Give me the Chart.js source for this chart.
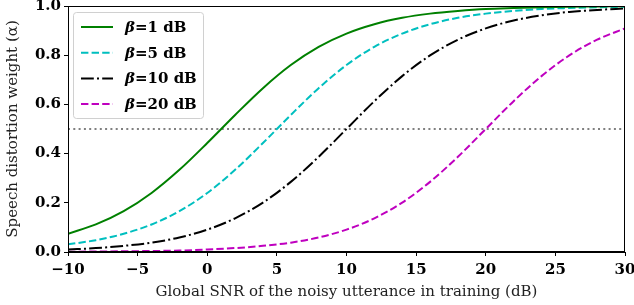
<!DOCTYPE html>
<html>
<head>
<meta charset="utf-8">
<script src="https://cdn.jsdelivr.net/npm/chart.js@4.4.0/dist/chart.umd.min.js"></script>
<style>
  html, body { margin: 0; padding: 0; background: #fff; }
  #wrap { width: 634px; height: 305px; }
</style>
</head>
<body>
<div id="wrap"><canvas id="alphaChart" width="634" height="305"></canvas></div>
<script>
// global SNR (dB), read every 2 dB
const snr = [-10, -8, -6, -4, -2, 0, 2, 4, 6, 8, 10, 12, 14, 16, 18, 20, 22, 24, 26, 28, 30];

const beta1 = [0.074, 0.112, 0.166, 0.240, 0.334, 0.443, 0.557, 0.666, 0.760, 0.834, 0.888,
    0.926, 0.952, 0.969, 0.980, 0.988, 0.992, 0.995, 0.997, 0.998, 0.999];
const beta5 = [0.031, 0.048, 0.074, 0.112, 0.166, 0.240, 0.334, 0.443, 0.557, 0.666, 0.760,
    0.834, 0.888, 0.926, 0.952, 0.969, 0.980, 0.988, 0.992, 0.995, 0.997];
const beta10 = [0.010, 0.016, 0.025, 0.038, 0.059, 0.091, 0.137, 0.201, 0.285, 0.387, 0.500,
    0.613, 0.715, 0.799, 0.863, 0.909, 0.941, 0.962, 0.976, 0.984, 0.990];
const beta20 = [0.001, 0.002, 0.003, 0.004, 0.006, 0.010, 0.016, 0.025, 0.038, 0.059, 0.091,
    0.137, 0.201, 0.285, 0.387, 0.500, 0.613, 0.715, 0.799, 0.863, 0.909];

const halfLine = [0.5, 0.5];
const halfLineX = [-10, 30];

const xTicks = [-10, -5, 0, 5, 10, 15, 20, 25, 30];
const yTicks = [0.0, 0.2, 0.4, 0.6, 0.8, 1.0];

const serif = "'DejaVu Serif', serif";

const toPoints = (xs, ys) => xs.map((x, i) => ({ x, y: ys[i] }));

const curve = (label, values, color, dash) => ({
    label,
    data: toPoints(snr, values),
    borderColor: color,
    backgroundColor: color,
    borderWidth: 2,
    borderDash: dash,
    pointRadius: 0,
    cubicInterpolationMode: 'monotone',
    fill: false,
});

// box around axes + legend inside the plot, drawn like matplotlib
const framePlugin = {
    id: 'frame',
    afterDatasetsDraw(chart) {
        const { ctx, chartArea: a } = chart;
        ctx.save();
        ctx.strokeStyle = '#000';
        ctx.lineWidth = 1;
        ctx.strokeRect(a.left + 0.5, a.top + 0.5, a.right - a.left - 1, a.bottom - a.top - 1);

        // legend
        const x0 = 73, y0 = 12, w = 130, h = 106;
        ctx.fillStyle = 'rgba(255,255,255,0.8)';
        ctx.strokeStyle = '#d0d0d0';
        ctx.beginPath();
        ctx.roundRect(x0 + 0.5, y0 + 0.5, w, h, 3);
        ctx.fill();
        ctx.stroke();

        ctx.textBaseline = 'middle';
        chart.data.datasets.slice(0, 4).forEach((ds, i) => {
            const cy = y0 + 15 + i * 25.7;
            ctx.strokeStyle = ds.borderColor;
            ctx.lineWidth = 2;
            ctx.setLineDash(ds.borderDash || []);
            ctx.beginPath();
            ctx.moveTo(81, cy);
            ctx.lineTo(113, cy);
            ctx.stroke();
            ctx.setLineDash([]);
            ctx.fillStyle = '#000';
            // β in bold italic, rest bold
            const greek = ds.label.slice(0, 1);
            const rest = ds.label.slice(1);
            ctx.font = `italic bold 15px ${serif}`;
            ctx.fillText(greek, 125, cy + 1);
            const gw = ctx.measureText(greek).width;
            ctx.font = `bold 15px ${serif}`;
            ctx.fillText(rest, 125 + gw, cy + 1);
        });
        ctx.restore();
    }
};

const initChart = () => {
    const ctx = document.getElementById('alphaChart');

    new Chart(ctx, {
        type: 'line',
        data: {
            datasets: [
                curve('β=1 dB', beta1, 'rgb(0,128,0)', []),
                curve('β=5 dB', beta5, 'rgb(0,191,191)', [7.4, 3.2]),
                curve('β=10 dB', beta10, 'rgb(0,0,0)', [12.8, 3.2, 2, 3.2]),
                curve('β=20 dB', beta20, 'rgb(191,0,191)', [7.4, 3.2]),
                {
                    label: 'half',
                    data: toPoints(halfLineX, halfLine),
                    borderColor: 'rgb(128,128,128)',
                    borderWidth: 2,
                    borderDash: [2, 3.3],
                    pointRadius: 0,
                },
            ]
        },
        options: {
            responsive: false,
            animation: false,
            layout: { padding: { top: 6, right: 9, left: 0, bottom: 0 } },
            plugins: {
                legend: { display: false },
                tooltip: { enabled: false },
            },
            scales: {
                x: {
                    type: 'linear',
                    min: -10,
                    max: 30,
                    afterBuildTicks: (s) => { s.ticks = xTicks.map(v => ({ value: v })); },
                    afterFit: (s) => { s.height = 53; s.paddingLeft = 0; s.paddingRight = 0; },
                    grid: { drawOnChartArea: false, drawTicks: true, tickLength: 4, color: '#000' },
                    border: { color: '#000', width: 1 },
                    ticks: {
                        color: '#000',
                        padding: 5,
                        font: { family: serif, weight: 'bold', size: 15 },
                        callback: (v) => String(v).replace('-', '\u2212'),
                    },
                    title: {
                        display: true,
                        text: 'Global SNR of the noisy utterance in training (dB)',
                        color: '#222',
                        font: { family: serif, size: 15 },
                        padding: { top: 0 },
                    },
                },
                y: {
                    min: 0,
                    max: 1,
                    afterBuildTicks: (s) => { s.ticks = yTicks.map(v => ({ value: v })); },
                    afterFit: (s) => { s.width = 68; s.paddingTop = 0; s.paddingBottom = 0; },
                    grid: { drawOnChartArea: false, drawTicks: true, tickLength: 4, color: '#000' },
                    border: { color: '#000', width: 1 },
                    ticks: {
                        color: '#000',
                        padding: 3,
                        font: { family: serif, weight: 'bold', size: 15 },
                        callback: (v) => Number(v).toFixed(1),
                    },
                    title: {
                        display: true,
                        text: 'Speech distortion weight (α)',
                        color: '#222',
                        font: { family: serif, size: 15 },
                        padding: { bottom: 2 },
                    },
                },
            },
        },
        plugins: [framePlugin],
    });
};

window.addEventListener('DOMContentLoaded', initChart);
</script>
</body>
</html>
